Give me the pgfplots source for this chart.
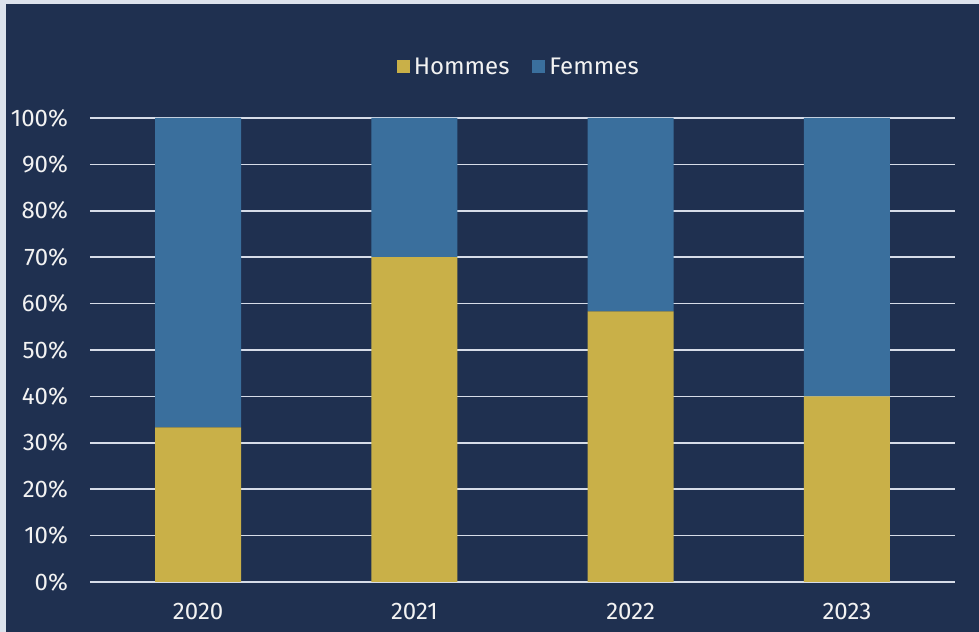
\documentclass[border=0pt]{standalone}
\usepackage{pgfplots}
\pgfplotsset{compat=1.18}
\usepackage{fontspec}
\setmainfont{Fira Sans}
\definecolor{bgnavy}{HTML}{1F3050}
\definecolor{edgepale}{HTML}{DCE2EC}
\definecolor{hommes}{HTML}{C9B048}
\definecolor{femmes}{HTML}{3A6F9D}
\definecolor{gridc}{HTML}{D6DCE8}
\definecolor{txt}{HTML}{F2F2F2}
\begin{document}
\begin{tikzpicture}[x=0.75pt,y=0.75pt]
% page: pale strip on left and top, navy panel
\fill[edgepale] (0,0) rectangle (979,632);
\fill[bgnavy] (6,0) rectangle (979,628);
\begin{axis}[
  at={(90*0.75pt,50*0.75pt)}, anchor=south west,
  scale only axis, width=865*0.75pt, height=464*0.75pt,
  ybar stacked, bar width=64.5pt,
  xmin=-0.5, xmax=3.5, ymin=0, ymax=100,
  xtick=data, xticklabels={2020,2021,2022,2023},
  ytick={0,10,...,100},
  yticklabel={\pgfmathprintnumber{\tick}\%},
  /pgf/number format/assume math mode=true,
  axis line style={draw=none}, tick style={draw=none},
  ymajorgrids, grid style={gridc, line width=1.3pt},
  tick label style={font=\fontsize{18}{21}\selectfont, text=txt},
  yticklabel style={xshift=-13pt},
  xticklabel style={yshift=-12pt},
  legend style={at={(0.496,1.11)}, anchor=center, legend columns=2,
    draw=none, fill=none, text=txt, font=\fontsize{18}{21}\selectfont,
    /tikz/every even column/.append style={column sep=15pt}},
  legend image code/.code={\fill[#1] (0pt,-4.9pt) rectangle (9.8pt,4.9pt);},
]
\addplot[fill=hommes, draw=none] coordinates {(0,33.3) (1,70) (2,58.3) (3,40)};
\addlegendentry{\hspace{1pt}Hommes}
\addplot[fill=femmes, draw=none] coordinates {(0,66.7) (1,30) (2,41.7) (3,60)};
\addlegendentry{\hspace{1pt}Femmes}
\end{axis}
\end{tikzpicture}
\end{document}
